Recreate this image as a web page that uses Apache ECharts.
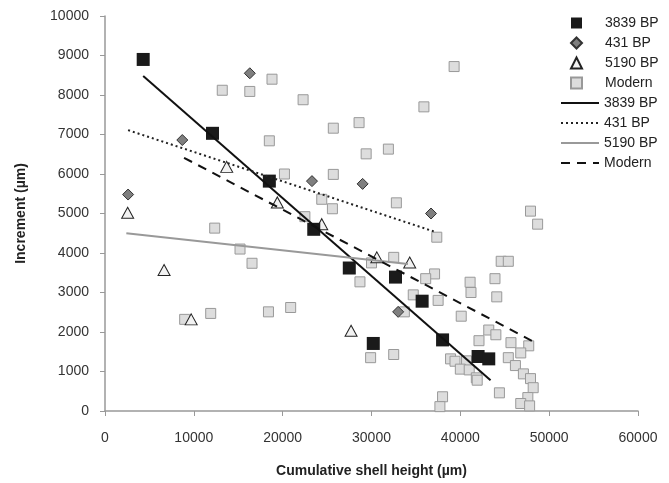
<!DOCTYPE html>
<html>
<head>
<meta charset="utf-8">
<script src="https://cdn.jsdelivr.net/npm/echarts@6/dist/echarts.min.js"></script>
<style>
  html, body { margin: 0; padding: 0; background: #fff; }
  #main { width: 669px; height: 483px; }
</style>
</head>
<body>
<div id="main"></div>
<script>
// [cumulative shell height, increment]
var bp3839 = [[4300, 8900], [12100, 7030], [18500, 5820], [23500, 4600], [27500, 3620], [32700, 3390],
  [35700, 2780], [30200, 1710], [38000, 1800], [42000, 1380], [43200, 1320]];
var bp431 = [[2600, 5480], [8700, 6860], [16300, 8550], [23300, 5820], [29000, 5750], [33000, 2510], [36700, 5000]];
var bp5190 = [[2550, 5020], [6650, 3570], [9700, 2320], [13700, 6180], [19400, 5280], [24400, 4730],
  [27700, 2030], [30600, 3890], [34300, 3760]];
var modern = [
  [39300, 8720], [22300, 7880], [35900, 7700], [28600, 7300], [25700, 7160], [31900, 6630], [29400, 6510],
  [25700, 5990], [18800, 8400], [13200, 8120], [16300, 8090], [18500, 6840], [20200, 6000],
  [24400, 5360], [25600, 5120], [32800, 5270], [22500, 4920], [47900, 5060], [48700, 4730], [37350, 4400],
  [12350, 4630], [15200, 4100], [16550, 3740], [8970, 2320], [11900, 2470], [18400, 2510], [20900, 2620],
  [32500, 3890], [30000, 3750], [28700, 3270], [37100, 3470], [36100, 3350], [41100, 3260], [41200, 3000],
  [43900, 3350], [44600, 3790], [45400, 3790], [44100, 2890], [34700, 2940], [37500, 2800], [33700, 2510],
  [40100, 2400], [29900, 1350], [32500, 1430], [43200, 2050], [44000, 1930], [42100, 1780], [45700, 1730],
  [47700, 1650], [46800, 1470], [45400, 1350], [38900, 1320], [39400, 1260], [40700, 1270], [40000, 1060],
  [41000, 1040], [41800, 840], [41900, 780], [46200, 1150], [47100, 940], [47900, 820], [48200, 590],
  [47600, 340], [46800, 190], [47800, 130], [44400, 460], [38000, 360], [37700, 110]
];
// trend line end points
var fit3839 = [[4300, 8480], [43400, 780]];
var fit431 = [[2600, 7110], [37100, 4540]];
var fit5190 = [[2400, 4500], [34100, 3720]];
var fitModern = [[8900, 6410], [48200, 1760]];

var font = 'Liberation Sans, Arial, sans-serif';
var plain = function (v) { return String(v); };

var chart = echarts.init(document.getElementById('main'));
var option = {
    animation: false,
    backgroundColor: '#fff',
    textStyle: { fontFamily: font },
    grid: { left: 105, right: 31, top: 16, bottom: 72 },
    legend: [
        {
            left: 565, top: 11, orient: 'vertical',
            itemWidth: 11, itemHeight: 11, itemGap: 6,
            textStyle: { fontSize: 14, color: '#222', padding: [0, 0, 0, 18] },
            data: ['3839 BP', '431 BP', '5190 BP', 'Modern']
        },
        {
            left: 555, top: 91, orient: 'vertical',
            itemWidth: 38, itemHeight: 14, itemGap: 6,
            itemStyle: { opacity: 0 },
            textStyle: { fontSize: 14, color: '#222' },
            formatter: function (n) { return n.replace(' fit', ''); },
            data: ['3839 BP fit', '431 BP fit', '5190 BP fit', 'Modern fit']
        }
    ],
    xAxis: {
        type: 'value', min: 0, max: 60000, interval: 10000,
        name: 'Cumulative shell height (µm)', nameLocation: 'middle', nameGap: 53,
        nameTextStyle: { fontSize: 14, fontWeight: 'bold', color: '#222' },
        axisLine: { lineStyle: { color: '#999', width: 1.5 } },
        axisTick: { show: true, length: 5, lineStyle: { color: '#999' } },
        axisLabel: { fontSize: 14, color: '#333', margin: 20, formatter: plain },
        splitLine: { show: false }
    },
    yAxis: {
        type: 'value', min: 0, max: 10000, interval: 1000,
        name: 'Increment (µm)', nameLocation: 'middle', nameGap: 77,
        nameTextStyle: { fontSize: 14, fontWeight: 'bold', color: '#222' },
        axisLine: { show: true, lineStyle: { color: '#999', width: 1.5 } },
        axisTick: { show: true, length: 5, lineStyle: { color: '#999' } },
        axisLabel: { fontSize: 14, color: '#333', margin: 16, formatter: plain },
        splitLine: { show: false }
    },
    series: [
        {
            name: 'Modern', type: 'scatter', data: modern, symbol: 'rect', symbolSize: 10,
            itemStyle: { color: '#dddddd', borderColor: '#999', borderWidth: 1, opacity: 1 }, z: 2
        },
        {
            name: '5190 BP', type: 'scatter', data: bp5190, symbol: 'triangle', symbolSize: [12, 11],
            itemStyle: { color: '#f2f2f2', borderColor: '#222', borderWidth: 1, opacity: 1 }, z: 3
        },
        {
            name: '431 BP', type: 'scatter', data: bp431, symbol: 'diamond', symbolSize: 11,
            itemStyle: { color: '#7f7f7f', borderColor: '#333', borderWidth: 1, opacity: 1 }, z: 3
        },
        {
            name: '3839 BP', type: 'scatter', data: bp3839, symbol: 'rect', symbolSize: 13,
            itemStyle: { color: '#1a1a1a', opacity: 1 }, z: 4
        },
        {
            name: '3839 BP fit', type: 'line', data: fit3839, symbol: 'none', z: 5,
            lineStyle: { color: '#111', width: 2 }, itemStyle: { color: '#111' }
        },
        {
            name: '431 BP fit', type: 'line', data: fit431, symbol: 'none', z: 5,
            lineStyle: { color: '#222', width: 2, type: [2, 3] }, itemStyle: { color: '#222' }
        },
        {
            name: '5190 BP fit', type: 'line', data: fit5190, symbol: 'none', z: 5,
            lineStyle: { color: '#999', width: 2 }, itemStyle: { color: '#999' }
        },
        {
            name: 'Modern fit', type: 'line', data: fitModern, symbol: 'none', z: 5,
            lineStyle: { color: '#111', width: 2, type: [9, 7] }, itemStyle: { color: '#111' }
        }
    ]
};
chart.setOption(option);
</script>
</body>
</html>
